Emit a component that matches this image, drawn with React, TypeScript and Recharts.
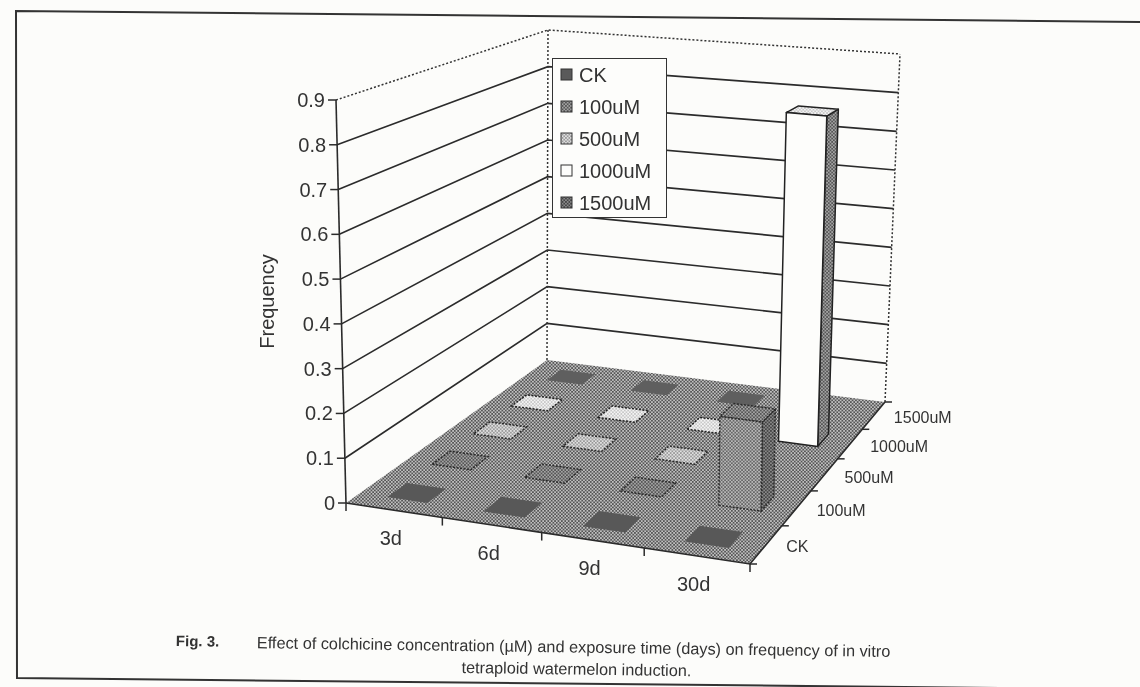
import { Legend, Scatter, ScatterChart, XAxis, YAxis } from 'recharts';

// values (null = nothing drawn on the floor there)
const DAYS = ['3d', '6d', '9d', '30d'];
const CONCENTRATIONS = ['CK', '100uM', '500uM', '1000uM', '1500uM'];
const VALUE_TICKS = [0, 0.1, 0.2, 0.3, 0.4, 0.5, 0.6, 0.7, 0.8, 0.9];

const CK_VALUES = [0, 0, 0, 0];
const UM100_VALUES = [0, 0, 0, 0.2];
const UM500_VALUES = [0, 0, 0, null];
const UM1000_VALUES = [0, 0, 0, 0.8];
const UM1500_VALUES = [0, 0, 0, null];

// back row first so the front rows paint over it
const SERIES = [UM1500_VALUES, UM1000_VALUES, UM500_VALUES, UM100_VALUES, CK_VALUES];
const SERIES_NAMES = [...CONCENTRATIONS].reverse();

const WIDTH = 1140;
const HEIGHT = 687;
const PLOT = { left: 336, right: 750, top: 100, bottom: 503 };
const TEXT = '#333';
const LINE = '#2b2b2b';
const FONT = 'Liberation Sans';

// floor corners and wall heights of the perspective box
const FL = [346, 503];
const FR = [750, 564];
const BR = [885, 402];
const BL = [547, 360];
const RISE_FL = [-10, -403];
const RISE_FR = [4, -421];
const RISE_BR = [15, -348];
const RISE_BL = [1, -330];

const homography = () => {
  const [x0, y0] = FL, [x1, y1] = FR, [x2, y2] = BR, [x3, y3] = BL;
  const dx1 = x1 - x2, dx2 = x3 - x2, sx = x0 - x1 + x2 - x3;
  const dy1 = y1 - y2, dy2 = y3 - y2, sy = y0 - y1 + y2 - y3;
  const den = dx1 * dy2 - dx2 * dy1;
  const g = (sx * dy2 - dx2 * sy) / den;
  const h = (dx1 * sy - sx * dy1) / den;
  return {
    a: x1 - x0 + g * x1, b: x3 - x0 + h * x3, c: x0,
    d: y1 - y0 + g * y1, e: y3 - y0 + h * y3, f: y0, g, h,
  };
};
const H = homography();

// u along days, v along concentrations, w up the value axis (all 0..1)
const project = (u: number, v: number, w = 0) => {
  const q = H.g * u + H.h * v + 1;
  const fx = (H.a * u + H.b * v + H.c) / q;
  const fy = (H.d * u + H.e * v + H.f) / q;
  const mix = (i: number) =>
    (1 - u) * (1 - v) * RISE_FL[i] + u * (1 - v) * RISE_FR[i] + u * v * RISE_BR[i] + (1 - u) * v * RISE_BL[i];
  return [fx + w * mix(0), fy + w * mix(1)];
};
const pts = (list: number[][]) => list.map((p) => p.join(',')).join(' ');

const uOf = (x: number) => (x - PLOT.left) / (PLOT.right - PLOT.left);
const wOf = (y: number) => (PLOT.bottom - y) / (PLOT.bottom - PLOT.top);

const STYLES: any = {
  CK: { top: '#585858', stroke: 'none', swatch: '#5a5a5a' },
  '100uM': { top: 'url(#ditherMid)', front: 'url(#ditherBar)', side: 'url(#ditherDark)', stroke: '#2a2a2a', swatch: 'url(#ditherMid)' },
  '500uM': { top: 'url(#ditherLight)', stroke: '#2a2a2a', swatch: 'url(#ditherLight)' },
  '1000uM': { top: 'url(#ditherPale)', front: '#fdfdfb', side: 'url(#ditherMid)', stroke: '#222', swatch: '#fdfdfb' },
  '1500uM': { top: '#5f5f5f', stroke: 'none', swatch: 'url(#ditherDark)' },
};

const DU = 0.0525;
const DV = 0.042;

const BarBox = (props: any) => {
  const { cx, cy, payload } = props;
  const style = STYLES[payload.conc];
  const u = uOf(cx);
  const v = (payload.concIndex + 0.5) / CONCENTRATIONS.length;
  const w = wOf(cy);
  const u0 = u - DU, u1 = u + DU, v0 = v - DV, v1 = v + DV;
  const dash = style.stroke === 'none' ? undefined : '2 1.5';
  const top = [project(u0, v0, w), project(u1, v0, w), project(u1, v1, w), project(u0, v1, w)];
  if (w === 0) {
    return <polygon points={pts(top)} fill={style.top} stroke={style.stroke} strokeWidth={1.5} strokeDasharray={dash} />;
  }
  const solid = payload.conc === '1000uM' ? undefined : dash;
  const front = [project(u0, v0), project(u1, v0), project(u1, v0, w), project(u0, v0, w)];
  const side = [project(u1, v0), project(u1, v1), project(u1, v1, w), project(u1, v0, w)];
  return (
    <g stroke={style.stroke} strokeWidth={1.5} strokeDasharray={solid} strokeLinejoin="round">
      <polygon points={pts(side)} fill={style.side} />
      <polygon points={pts(top)} fill={style.top} />
      <polygon points={pts(front)} fill={style.front} />
    </g>
  );
};

// one wall line per value tick
const WallLine = (props: any) => {
  const { cy } = props;
  const w = wOf(cy);
  const line = pts([project(0, 0, w), project(0, 1, w), project(1, 1, w)]);
  if (w === 0) {
    return (
      <g>
        <polygon points={pts([project(0, 0), project(1, 0), project(1, 1), project(0, 1)])} fill="url(#ditherFloor)" />
        <polyline points={pts([project(0, 0), project(1, 0), project(1, 1)])} fill="none" stroke={LINE} strokeWidth={1.6} />
      </g>
    );
  }
  if (w > 0.99) {
    return (
      <g fill="none" stroke="#333" strokeWidth={1.5} strokeDasharray="2 2">
        <polyline points={line} />
        <polyline points={pts([project(0, 1), project(0, 1, 1)])} />
        <polyline points={pts([project(1, 1), project(1, 1, 1)])} />
        <polyline points={pts([project(0, 0), project(0, 0, 1)])} stroke={LINE} strokeDasharray="none" strokeWidth={1.6} />
      </g>
    );
  }
  return <polyline points={line} fill="none" stroke={LINE} strokeWidth={1.6} />;
};

const ValueTick = (props: any) => {
  const { y, payload } = props;
  const [px, py] = project(0, 0, wOf(y));
  return (
    <g>
      <line x1={px - 8} y1={py} x2={px} y2={py} stroke={LINE} strokeWidth={1.5} />
      <text x={px - 11} y={py + 7} textAnchor="end" fontSize={20} fill={TEXT} fontFamily={FONT}>{payload.value}</text>
    </g>
  );
};

const DayTick = (props: any) => {
  const { x, payload } = props;
  const u = uOf(x);
  const [lx, ly] = project(u, 0);
  const [tx, ty] = project(u + 0.125, 0);
  const [sx, sy] = project(0, 0);
  return (
    <g>
      <line x1={tx} y1={ty} x2={tx} y2={ty + 8} stroke={LINE} strokeWidth={1.5} />
      {payload.value === 0 && <line x1={sx} y1={sy} x2={sx} y2={sy + 8} stroke={LINE} strokeWidth={1.5} />}
      <text x={lx - 3} y={ly + 35} textAnchor="middle" fontSize={20} fill={TEXT} fontFamily={FONT}>{DAYS[payload.value]}</text>
    </g>
  );
};

const ConcTick = (props: any) => {
  const { y, payload } = props;
  const v = (PLOT.bottom - y) / (PLOT.bottom - PLOT.top);
  const [lx, ly] = project(1, v);
  const [tx, ty] = project(1, v + 0.1);
  const [sx, sy] = project(1, 0);
  return (
    <g>
      <line x1={tx} y1={ty} x2={tx + 7} y2={ty} stroke={LINE} strokeWidth={1.5} />
      {payload.value === 0 && <line x1={sx} y1={sy} x2={sx + 7} y2={sy} stroke={LINE} strokeWidth={1.5} />}
      <text x={lx + 20} y={ly + 8} fontSize={16} fill={TEXT} fontFamily={FONT}>{CONCENTRATIONS[payload.value]}</text>
    </g>
  );
};

const LegendBox = ({ payload }: any) => (
  <div style={{ width: 115, height: 160, boxSizing: 'border-box', border: '1.5px solid #333', background: '#fdfdfb', fontFamily: FONT, fontSize: 20, color: TEXT }}>
    {[...(payload || [])].filter((item: any) => STYLES[item.value]).reverse().map((item: any) => (
      <div key={item.value} style={{ display: 'flex', alignItems: 'center', height: 32, marginLeft: 7 }}>
        <svg width={14} height={14} style={{ marginRight: 5 }}>
          <rect x={1} y={1} width={11} height={11} fill={STYLES[item.value].swatch} stroke="#333" strokeWidth={1} />
        </svg>
        {item.value}
      </div>
    ))}
  </div>
);

const Checker = ({ id, dark, light }: any) => (
  <pattern id={id} width={3.4} height={3.4} patternUnits="userSpaceOnUse">
    <rect width={3.4} height={3.4} fill={light} />
    <rect width={1.7} height={1.7} fill={dark} />
    <rect x={1.7} y={1.7} width={1.7} height={1.7} fill={dark} />
  </pattern>
);

export default function App() {
  return (
    <div style={{ position: 'absolute', left: 0, top: 0, width: WIDTH, height: HEIGHT, background: '#fcfcfa', overflow: 'hidden', filter: 'blur(0.4px)' }}>
      <svg width={WIDTH} height={HEIGHT} style={{ position: 'absolute', left: 0, top: 0 }}>
        <polyline points="1140,22 16,11 17,678 1000,688" fill="none" stroke="#333" strokeWidth={2} />
      </svg>
      <div style={{ position: 'absolute', left: 0, top: 0 }}>
        <ScatterChart
          width={WIDTH}
          height={HEIGHT}
          margin={{ left: PLOT.left - 1, right: WIDTH - PLOT.right - 1, top: PLOT.top, bottom: HEIGHT - PLOT.bottom - 1 }}
        >
          <defs>
            <Checker id="ditherFloor" dark="#555" light="#c0c0c0" />
            <Checker id="ditherDark" dark="#444" light="#8a8a8a" />
            <Checker id="ditherMid" dark="#555" light="#a4a4a4" />
            <Checker id="ditherBar" dark="#666" light="#b8b8b8" />
            <Checker id="ditherLight" dark="#9a9a9a" light="#e0e0e0" />
            <Checker id="ditherPale" dark="#c8c8c8" light="#f4f4f4" />
          </defs>
          <XAxis
            xAxisId="day"
            type="number"
            dataKey="dayIndex"
            domain={[-0.5, 3.5]}
            ticks={[0, 1, 2, 3]}
            height={1}
            axisLine={false}
            tickLine={false}
            tick={DayTick}
          />
          <YAxis
            yAxisId="value"
            type="number"
            dataKey="value"
            domain={[0, 0.9]}
            ticks={VALUE_TICKS}
            width={1}
            axisLine={false}
            tickLine={false}
            tick={ValueTick}
            label={{ value: 'Frequency', angle: -90, position: 'center', dx: -69, fontSize: 20, fill: TEXT, fontFamily: FONT }}
          />
          <YAxis
            yAxisId="conc"
            orientation="right"
            type="number"
            dataKey="concIndex"
            domain={[-0.5, 4.5]}
            ticks={[0, 1, 2, 3, 4]}
            interval={0}
            width={1}
            axisLine={false}
            tickLine={false}
            tick={ConcTick}
          />
          <Legend
            layout="vertical"
            align="center"
            verticalAlign="middle"
            itemSorter={null}
            wrapperStyle={{ left: 552, top: 58, width: 115, height: 160 }}
            content={LegendBox}
          />
          <Scatter
            xAxisId="day"
            yAxisId="value"
            legendType="none"
            data={VALUE_TICKS.map((value) => ({ dayIndex: 0, value }))}
            shape={WallLine}
            isAnimationActive={false}
          />
          {SERIES.map((values, s) => (
            <Scatter
              key={SERIES_NAMES[s]}
              name={SERIES_NAMES[s]}
              xAxisId="day"
              yAxisId="value"
              data={values
                .map((value, i) => ({
                  dayIndex: i,
                  day: DAYS[i],
                  value,
                  conc: SERIES_NAMES[s],
                  concIndex: CONCENTRATIONS.indexOf(SERIES_NAMES[s]),
                }))
                .filter((row) => row.value !== null)}
              shape={BarBox}
              isAnimationActive={false}
            />
          ))}
          {/* keeps the concentration axis alive, draws nothing itself */}
          <Scatter
            xAxisId="day"
            yAxisId="conc"
            legendType="none"
            data={CONCENTRATIONS.map((conc, i) => ({ dayIndex: 3, concIndex: i }))}
            shape={() => <g />}
            isAnimationActive={false}
          />
        </ScatterChart>
      </div>
      <div style={{ position: 'absolute', left: 176, top: 632, width: 740, fontFamily: FONT, color: TEXT, transform: 'rotate(0.8deg)', transformOrigin: 'left top' }}>
        <span style={{ fontWeight: 'bold', position: 'absolute', left: 0, top: 0, fontSize: 15, whiteSpace: 'nowrap' }}>Fig. 3.</span>
        <span style={{ position: 'absolute', left: 81, top: 0, whiteSpace: 'nowrap', fontSize: 16.3 }}>Effect of colchicine concentration (µM) and exposure time (days) on frequency of in vitro</span>
        <span style={{ position: 'absolute', left: 286, top: 22, whiteSpace: 'nowrap', fontSize: 16.3 }}>tetraploid watermelon induction.</span>
      </div>
    </div>
  );
}
